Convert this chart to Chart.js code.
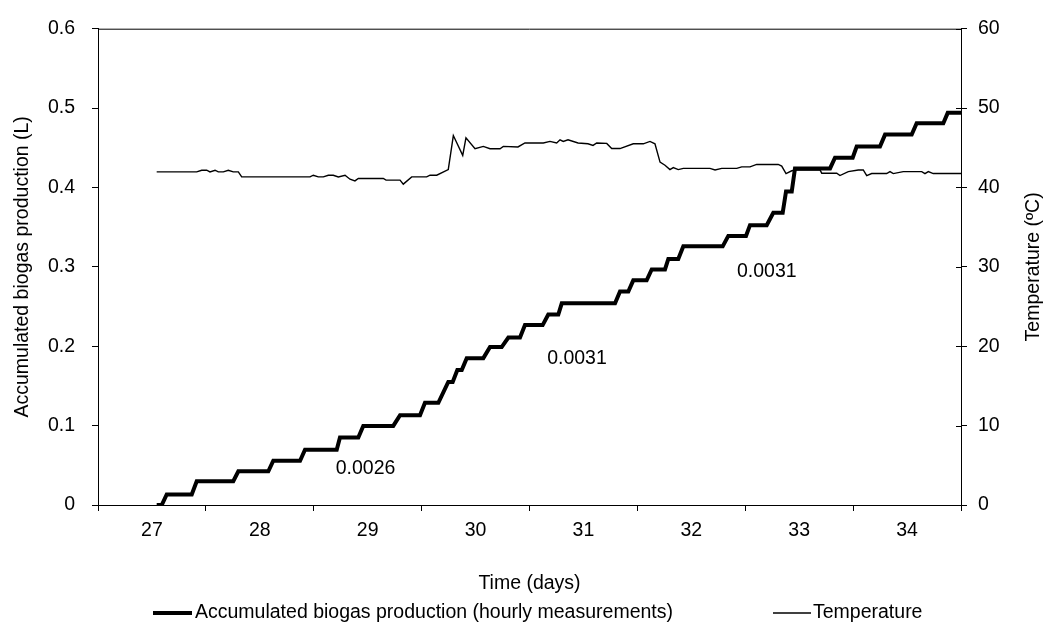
<!DOCTYPE html>
<html>
<head>
<meta charset="utf-8">
<script src="https://cdn.jsdelivr.net/npm/chart.js@4/dist/chart.umd.min.js"></script>
<style>
  html, body { margin: 0; padding: 0; background: #fff; }
  #wrap { width: 1043px; height: 625px; }
</style>
</head>
<body>
<div id="wrap"><canvas id="c" width="1043" height="625"></canvas></div>
<script>
// Accumulated biogas (L): hourly readings, corner points of each step
const biogasDays = [27.044, 27.091, 27.137, 27.369, 27.415, 27.754, 27.801, 28.079, 28.125, 28.373,
  28.419, 28.713, 28.743, 28.913, 28.959, 29.237, 29.300, 29.485, 29.531, 29.655,
  29.747, 29.788, 29.831, 29.872, 29.918, 30.072, 30.134, 30.242, 30.304, 30.412,
  30.458, 30.622, 30.674, 30.767, 30.799, 31.293, 31.339, 31.416, 31.462, 31.586,
  31.633, 31.756, 31.787, 31.879, 31.926, 32.291, 32.343, 32.507, 32.544, 32.699,
  32.760, 32.847, 32.878, 32.931, 32.961, 33.286, 33.332, 33.496, 33.533, 33.749,
  33.796, 34.043, 34.089, 34.336, 34.377, 34.500];
const biogasLitres = [0, 0, 0.0133, 0.0133, 0.030, 0.030, 0.0425, 0.0425, 0.0558, 0.0558,
  0.0696, 0.0696, 0.085, 0.085, 0.0996, 0.0996, 0.113, 0.113, 0.1288, 0.1288,
  0.155, 0.155, 0.170, 0.170, 0.185, 0.185, 0.199, 0.199, 0.211, 0.211,
  0.2266, 0.2266, 0.240, 0.240, 0.254, 0.254, 0.269, 0.269, 0.283, 0.283,
  0.2967, 0.2967, 0.310, 0.310, 0.3258, 0.3258, 0.339, 0.339, 0.3525, 0.3525,
  0.368, 0.368, 0.395, 0.395, 0.424, 0.424, 0.4375, 0.4375, 0.4516, 0.4516,
  0.4666, 0.4666, 0.481, 0.481, 0.494, 0.494];

// Digester temperature (ºC)
const tempDays = [27.044, 27.415, 27.461, 27.508, 27.538, 27.585, 27.615, 27.662, 27.708, 27.754,
  27.801, 27.832, 28.465, 28.496, 28.542, 28.589, 28.635, 28.681, 28.728, 28.790,
  28.836, 28.882, 28.913, 29.145, 29.170, 29.300, 29.330, 29.408, 29.547, 29.578,
  29.640, 29.747, 29.794, 29.881, 29.911, 29.995, 30.072, 30.134, 30.227, 30.257,
  30.393, 30.458, 30.628, 30.690, 30.752, 30.783, 30.813, 30.857, 30.950, 31.042,
  31.089, 31.123, 31.216, 31.262, 31.339, 31.462, 31.555, 31.617, 31.663, 31.710,
  31.756, 31.802, 31.833, 31.879, 31.926, 32.173, 32.220, 32.282, 32.421, 32.467,
  32.544, 32.606, 32.806, 32.838, 32.878, 32.931, 32.977, 33.193, 33.209, 33.348,
  33.378, 33.455, 33.548, 33.594, 33.626, 33.672, 33.811, 33.842, 33.872, 33.965,
  34.136, 34.166, 34.197, 34.243, 34.500];
const tempC = [41.96, 41.96, 42.17, 42.17, 41.96, 42.17, 41.96, 41.96, 42.17, 41.96,
  41.96, 41.33, 41.33, 41.54, 41.33, 41.33, 41.54, 41.54, 41.33, 41.54,
  41.04, 40.83, 41.13, 41.13, 40.92, 40.92, 40.42, 41.33, 41.33, 41.54,
  41.54, 42.25, 46.54, 44.04, 46.25, 44.88, 45.17, 44.88, 44.88, 45.17,
  45.10, 45.60, 45.60, 45.80, 45.60, 46.00, 45.80, 46.00, 45.60, 45.50,
  45.30, 45.60, 45.55, 44.90, 44.90, 45.50, 45.50, 45.80, 45.50, 43.20,
  42.80, 42.25, 42.50, 42.25, 42.40, 42.40, 42.20, 42.40, 42.40, 42.60,
  42.60, 42.90, 42.90, 42.70, 41.75, 42.10, 42.20, 42.20, 41.80, 41.80,
  41.50, 42.00, 42.20, 42.20, 41.50, 41.75, 41.75, 42.00, 41.75, 42.00,
  42.00, 41.75, 42.00, 41.75, 41.75];

// Production-rate notes (L/h) placed beside the curve
const slopeText = ['0.0026', '0.0031', '0.0031'];
const slopeDays = [28.98, 30.94, 32.70];
const slopeLitres = [0.046, 0.184, 0.294];

const seriesNames = ['Accumulated biogas production (hourly measurements)', 'Temperature'];
const axisTitles = { x: 'Time (days)', y: 'Accumulated biogas production (L)', y2: 'Temperature (ºC)' };

const FONT = "'Liberation Sans', Arial, sans-serif";
const FS = 19.5;
Chart.defaults.font.family = FONT;
Chart.defaults.font.size = FS;
Chart.defaults.color = '#000';

const toPoints = (xs, ys) => xs.map((x, i) => ({ x, y: ys[i] }));

// Frame top edge, inner halves of right-axis ticks, rate notes, right title, legend
const decor = {
  id: 'decor',
  afterDraw(chart) {
    const { ctx, chartArea: a, scales } = chart;
    ctx.save();
    ctx.strokeStyle = '#000';
    ctx.lineWidth = 1;
    ctx.beginPath();
    ctx.moveTo(a.left, a.top + 0.5);
    ctx.lineTo(a.right, a.top + 0.5);
    scales.y2.ticks.forEach(t => {
      const y = Math.round(scales.y2.getPixelForValue(t.value)) + 0.5;
      ctx.moveTo(a.right - 5, y);
      ctx.lineTo(a.right, y);
    });
    ctx.stroke();

    ctx.font = FS + 'px ' + FONT;
    ctx.fillStyle = '#000';
    ctx.textAlign = 'center';
    ctx.textBaseline = 'middle';
    slopeText.forEach((s, i) => {
      ctx.fillText(s, scales.x.getPixelForValue(slopeDays[i]), scales.y.getPixelForValue(slopeLitres[i]));
    });

    ctx.save();
    ctx.translate(1034, (a.top + a.bottom) / 2);
    ctx.rotate(-Math.PI / 2);
    ctx.fillText(axisTitles.y2, 0, 0);
    ctx.restore();

    // legend
    const ly = 613;
    const items = [
      { x0: 153, x1: 192, tx: 195, ds: chart.data.datasets[0] },
      { x0: 773, x1: 811, tx: 813, ds: chart.data.datasets[1] }
    ];
    ctx.textAlign = 'left';
    items.forEach(it => {
      ctx.lineWidth = it.ds.borderWidth;
      ctx.strokeStyle = it.ds.borderColor;
      ctx.beginPath();
      ctx.moveTo(it.x0, ly);
      ctx.lineTo(it.x1, ly);
      ctx.stroke();
      ctx.fillText(it.ds.label, it.tx, ly);
    });
    ctx.restore();
  }
};

new Chart(document.getElementById('c'), {
  type: 'line',
  data: {
    datasets: [
      {
        label: seriesNames[0],
        data: toPoints(biogasDays, biogasLitres),
        yAxisID: 'y',
        borderColor: '#000',
        borderWidth: 4,
        pointRadius: 0,
        tension: 0,
        borderJoinStyle: 'miter'
      },
      {
        label: seriesNames[1],
        data: toPoints(tempDays, tempC),
        yAxisID: 'y2',
        borderColor: '#000',
        borderWidth: 1.4,
        pointRadius: 0,
        tension: 0
      }
    ]
  },
  options: {
    responsive: false,
    animation: false,
    devicePixelRatio: 1,
    layout: { padding: { top: 24, left: 0, right: 0, bottom: 0 } },
    plugins: { legend: { display: false }, tooltip: { enabled: false } },
    scales: {
      x: {
        type: 'linear',
        min: 26.5,
        max: 34.5,
        afterFit(s) { s.height = 120; },
        grid: {
          drawOnChartArea: false,
          tickLength: 6,
          tickColor: c => (c.tick && Number.isInteger(c.tick.value)) ? 'rgba(0,0,0,0)' : '#000'
        },
        border: { color: '#000', width: 1 },
        ticks: {
          stepSize: 0.5,
          autoSkip: false,
          maxRotation: 0,
          maxTicksLimit: 40,
          padding: 8,
          callback: v => Number.isInteger(v) ? String(v) : ''
        },
        title: { display: true, text: axisTitles.x, padding: { top: 0, bottom: 30 } }
      },
      y: {
        position: 'left',
        min: 0,
        max: 0.6,
        afterFit(s) { s.width = 98; },
        grid: { drawOnChartArea: false, tickLength: 6, tickColor: '#000' },
        border: { color: '#000', width: 1 },
        ticks: { stepSize: 0.1, padding: 17, callback: v => String(+v.toFixed(1)) },
        title: { display: true, text: axisTitles.y, padding: { top: 11, bottom: 0 } }
      },
      y2: {
        position: 'right',
        min: 0,
        max: 60,
        afterFit(s) { s.width = 82; },
        grid: { drawOnChartArea: false, tickLength: 6, tickColor: '#000' },
        border: { color: '#000', width: 1 },
        ticks: { stepSize: 10, padding: 11 }
      }
    }
  },
  plugins: [decor]
});
</script>
</body>
</html>
